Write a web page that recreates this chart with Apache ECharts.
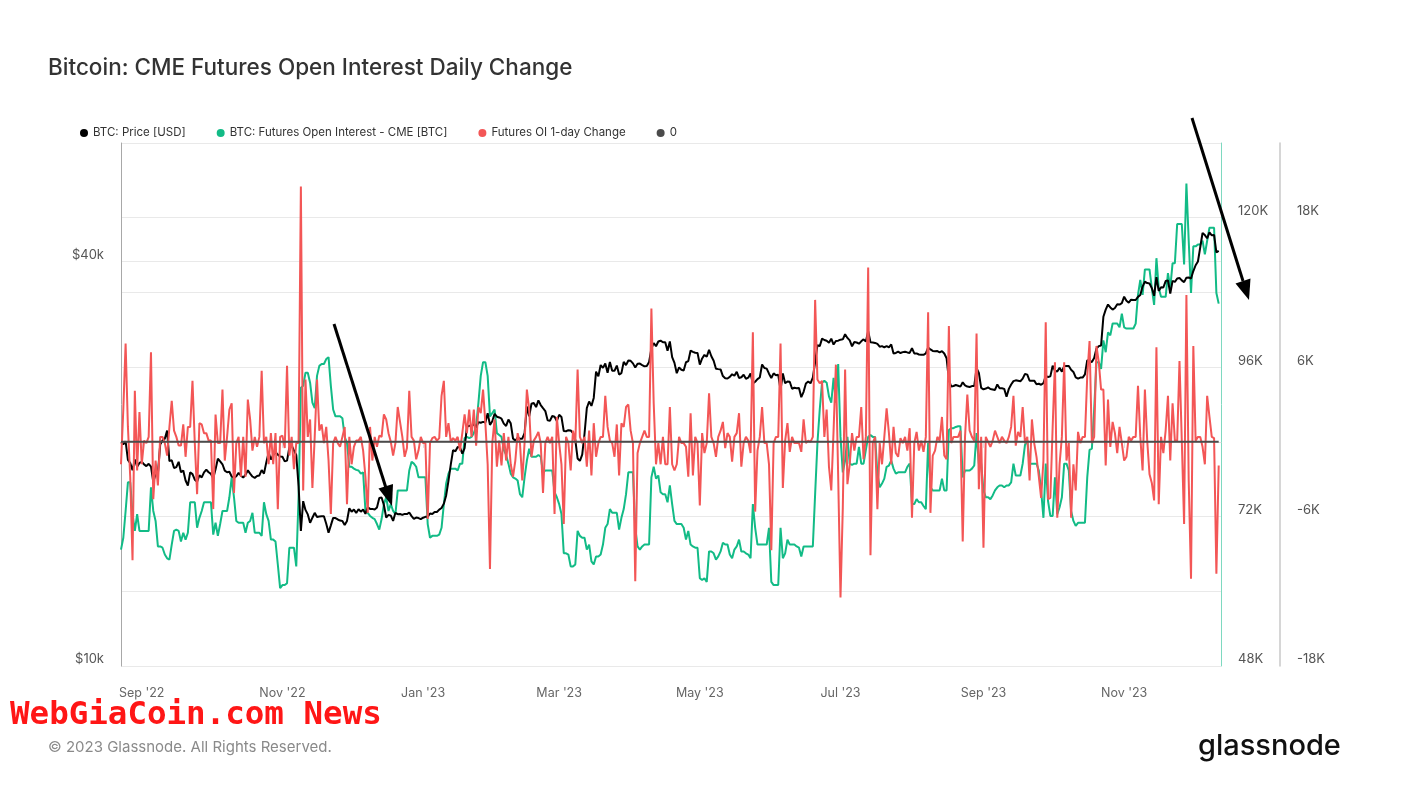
<!DOCTYPE html>
<html>
<head>
<meta charset="utf-8">
<script src="https://cdn.jsdelivr.net/npm/echarts@6/dist/echarts.min.js"></script>
<style>
html,body{margin:0;padding:0;background:#ffffff;}
#chart{width:1427px;height:796px;}
</style>
</head>
<body>
<div id="chart"></div>
<script>
// ---------------- DATA ----------------
const TITLE = 'Bitcoin: CME Futures Open Interest Daily Change';
const SERIES_NAMES = ['BTC: Price [USD]', 'BTC: Futures Open Interest - CME [BTC]', 'Futures OI 1-day Change', '0'];
const START_DATE = [2022, 7, 23];   // first daily point (year, monthIndex, day)
const X_END_DATE = [2023, 11, 13];  // right edge of the time axis
const X_TICK_DATES = [[2022,8,1],[2022,10,1],[2023,0,1],[2023,2,1],[2023,4,1],[2023,6,1],[2023,8,1],[2023,10,1]];
const MONTH_NAMES = ['Jan','Feb','Mar','Apr','May','Jun','Jul','Aug','Sep','Oct','Nov','Dec'];
const PRICE_LABEL_TICKS = ['$10k', '$40k'];
const PRICE_AXIS_RANGE = [10000, 60000];
const OI_AXIS = { min: 48, max: 132, interval: 12 };        // thousand BTC
const CHANGE_AXIS = { min: -18, max: 24, interval: 6 };     // thousand BTC

// BTC price, USD, daily from 2022-08-23 to 2023-12-12
const PRICE_USD = [
21530,21370,21580,20260,20040,19550,20290,19800,20050,
20130,19950,19830,19990,19800,18790,19290,19320,21360,21650,21780,22400,20170,20240,19700,19770,20130,19420,19540,18880,18550,19410,19300,18930,18800,19220,19080,19410,19590,19420,
19310,19040,19620,20340,20160,19960,19530,19420,19450,19140,19050,19160,19380,19190,19070,19260,19550,19330,19140,19050,19170,19210,19570,19330,20090,20770,20290,20600,20810,20630,20500,
20480,20160,20210,21150,21300,20920,20600,18540,15880,17590,17070,16810,16330,16620,16900,16660,16690,16700,16700,16280,15790,16190,16610,16600,16520,16460,16440,16210,16440,17170,
16970,17090,16890,17110,16970,17090,16840,17230,17130,17130,17090,17210,17780,17810,17360,16630,16780,16740,16440,16900,16820,16830,16780,16840,16830,16920,16710,16550,16630,16600,16540,
16620,16670,16680,16860,16830,16950,16950,17090,17180,17440,17940,18850,19930,20950,20870,21170,21160,20690,21090,22680,22780,22710,22930,22640,23060,23010,23080,23030,23770,22840,23130,
23730,23490,23430,23330,22940,22760,23260,22960,21800,21630,21860,21790,21790,22200,24330,23520,24560,24630,24280,24840,24450,24190,23950,23200,23160,23550,23490,23150,
23650,23470,22360,22350,22430,22410,22200,21700,20360,20190,20630,22160,24200,24750,24380,25050,27420,26970,28040,27770,28180,27310,28330,27490,27490,27990,27140,27270,28350,28030,28480,
28450,28200,27800,28170,28180,28040,27920,27950,28330,29650,30240,29900,30390,30480,30320,30320,29450,30400,28820,28250,27270,27820,27590,27520,28310,28420,29470,29340,29250,29230,
28090,28680,29030,28850,29530,28900,28450,27690,27650,27620,27000,26800,26780,26930,27170,27030,27400,26830,26890,27120,26750,26850,27230,26330,26480,26720,26870,28090,27750,27700,27220,
26820,27250,27070,27120,25760,27240,26350,26500,26480,25850,25940,25900,25920,25120,25580,26330,26510,26340,26850,28330,30030,29910,30700,30550,30470,30270,30690,30080,30450,30480,
30590,30620,31160,30770,30510,29900,30350,30290,30170,30410,30620,30390,31480,30320,30300,30250,30140,29860,29920,29800,29910,29800,30090,29180,29230,29350,29220,29310,29350,29280,29230,
29700,29180,29180,29070,29040,29040,29180,29770,29580,29430,29400,29410,29280,29410,29170,28700,26660,26050,26100,26190,26120,26040,26430,26160,26050,26010,26090,26100,27730,27300,25930,
25800,25870,25970,25830,25790,25750,26240,25900,25900,25840,25160,25840,26230,26540,26610,26570,26530,26760,27210,27130,26570,26580,26580,26250,26300,26210,26350,27030,26910,26970,
27980,27500,27430,27790,27410,27930,27960,27940,27590,27390,26870,26760,26860,26860,27160,28520,28410,28330,28720,29680,29920,29990,33090,33900,34500,34160,33910,34090,34540,34500,34670,
35440,34940,34730,35080,35050,35040,35420,35640,36690,37310,37130,37070,36500,35550,37880,36150,36600,36570,37390,37480,35810,37410,37290,37720,37790,37480,37250,37830,37860,37710,
38690,39470,39980,41980,44080,43770,43290,44170,43730,43790,41240,41450
];

// CME futures open interest, thousand BTC, same days
const OI_K = [
66.7,68.6,72.9,77.5,77.5,72.4,69.7,72.4,69.7,69.7,
69.7,69.7,69.7,76.7,72.9,71.3,67.2,67.2,67.0,65.9,
65.3,65.1,67.5,69.7,69.9,69.7,68.0,69.4,68.3,69.4,
74.3,74.3,74.3,70.2,71.8,72.9,74.3,74.3,74.3,74.3,
69.1,71.0,68.9,70.8,72.9,72.9,72.9,75.1,78.3,75.1,
71.3,71.0,71.0,71.0,69.4,71.0,71.3,72.6,69.4,69.4,
69.4,68.9,74.3,72.4,71.3,68.3,68.3,68.0,64.3,60.5,
61.0,61.0,61.3,67.0,67.0,67.0,64.0,75.1,92.7,93.0,
95.1,95.1,93.5,90.3,89.4,94.6,96.2,96.5,96.5,97.3,
97.6,93.0,89.2,88.1,88.1,88.1,87.8,84.8,83.8,80.0,
80.0,79.7,79.5,79.4,78.9,79.1,72.9,72.6,72.1,71.8,
71.6,70.8,69.9,71.6,74.0,75.1,72.9,74.0,72.9,72.4,
76.2,76.2,76.2,76.2,76.2,79.4,80.8,80.5,80.0,78.3,
78.3,78.3,78.3,70.8,68.6,68.9,68.9,68.9,69.1,70.2,
74.0,77.3,78.9,79.7,79.7,79.7,79.4,80.5,80.5,84.6,
84.8,84.6,84.8,85.4,86.5,90.3,94.6,96.8,96.8,94.6,
88.1,88.6,89.2,85.4,85.1,84.8,82.7,81.9,80.5,78.9,
78.3,78.1,77.8,75.6,75.1,78.3,81.0,82.9,81.6,81.6,
81.6,81.9,81.6,79.1,79.4,79.4,79.4,79.4,75.9,75.1,
74.0,72.4,66.1,66.1,65.9,64.0,64.0,64.3,69.7,68.9,
68.6,68.6,66.7,67.5,64.8,64.3,65.6,65.6,65.9,67.5,
70.2,70.8,73.2,72.6,72.6,72.6,69.9,71.8,73.2,75.6,
79.1,79.1,79.1,70.2,67.2,66.7,67.2,67.5,67.5,67.5,
78.3,80.0,78.1,78.6,75.9,75.6,75.6,74.3,77.0,74.0,
71.3,70.8,70.8,70.8,70.2,68.3,69.7,67.5,67.2,67.0,
67.0,62.1,61.8,62.1,61.5,66.4,66.4,66.1,65.1,65.6,
66.4,67.8,67.5,67.5,65.9,65.3,66.7,67.2,68.3,66.4,
66.4,66.1,65.9,65.3,74.0,70.2,67.5,67.5,67.5,67.5,
67.5,70.2,61.5,61.0,61.0,61.0,70.2,65.3,66.1,68.3,
67.5,67.5,67.5,67.2,67.0,65.6,67.2,67.2,67.2,67.2,
67.2,75.6,83.8,89.2,93.5,93.8,93.5,91.3,90.3,94.3,
90.3,96.5,84.8,79.1,81.0,84.8,80.5,80.3,80.5,80.5,
83.2,80.5,80.5,82.7,84.8,85.1,84.8,84.8,78.9,76.7,
77.3,78.1,80.0,80.2,81.0,79.7,78.9,79.1,79.1,79.1,
79.1,80.0,80.5,74.0,74.0,74.8,74.3,74.3,73.7,73.2,
83.8,76.7,76.2,76.2,76.2,76.2,78.1,76.2,76.2,85.9,
86.2,86.2,86.4,86.5,86.5,78.3,79.4,79.4,79.4,79.7,
80.2,85.4,80.5,80.5,76.2,75.1,75.1,74.8,75.4,76.2,
76.7,77.0,77.0,76.7,77.0,77.0,77.5,80.5,78.6,78.6,
78.6,80.5,83.5,84.3,80.5,80.5,80.5,80.5,79.4,76.2,
71.8,80.5,74.5,72.1,72.1,78.3,72.4,73.5,75.1,80.5,
80.5,79.4,72.9,71.3,70.5,71.0,71.0,71.0,71.0,78.3,
82.7,82.9,89.2,96.8,96.8,95.7,100.3,98.4,101.6,101.1,
103.0,103.0,103.0,102.4,104.6,102.4,102.2,102.2,102.2,102.2,
103.0,107.6,110.0,107.6,111.7,111.7,111.7,108.7,106.0,113.5,
108.7,107.3,107.3,107.3,111.1,108.7,112.7,112.7,119.0,119.0,
119.0,112.5,125.5,116.3,107.9,115.4,115.4,115.7,115.7,116.3,
114.1,116.3,118.4,118.4,118.4,107.9,106.2
];

// Futures OI 1-day change, thousand BTC, same days
const OI_CHANGE_K = [
-1.8,2.6,7.9,1.2,-2.8,-9.5,4.1,-2.3,2.4,-1.8,
0.1,-0.1,0.4,7.2,-4.6,-1.5,-3.5,0.4,0.4,-0.1,
-1.1,1.2,3.3,0.9,0.4,-0.3,-0.3,1.4,-1.2,1.2,
1.2,4.9,-0.1,-4.2,1.5,1.4,0.7,0.7,0.1,0.1,
-5.4,2.2,-0.1,-0.1,4.2,-1.5,0.4,2.6,3.1,-4.1,
-0.1,0.4,-2.8,0.4,-2.8,3.4,1.8,-0.7,0.4,-0.4,
0.4,5.7,-0.1,0.4,-1.8,0.7,-1.8,0.7,-5.4,0.4,
0.5,-0.5,6.1,-1.1,0.4,-2.2,-0.1,-0.1,20.5,-3.9,
5.0,0.4,1.8,-3.7,0.4,5.0,0.9,1.4,-0.1,1.2,
-1.5,-5.8,-0.1,0.4,-0.1,-0.4,0.4,1.2,-5.0,0.4,
-1.8,-0.4,0.1,0.1,0.4,-0.7,-2.8,-5.7,1.2,-1.5,
0.4,-0.4,0.5,0.4,2.2,1.8,0.7,0.0,-1.1,-0.1,
2.8,1.6,0.4,-1.2,-0.5,4.1,0.4,0.1,-1.4,-0.7,
0.4,-0.1,-0.1,-6.2,-0.1,0.3,0.4,0.1,0.3,3.7,
4.9,0.4,1.5,0.0,0.3,0.1,0.4,-0.7,0.7,2.2,
0.7,2.6,0.4,2.6,-0.3,2.8,2.3,4.2,1.5,-1.8,
-10.2,-0.1,1.8,-2.0,0.1,-1.9,0.7,-1.5,0.4,-1.8,
-2.8,-1.5,0.7,-0.1,-3.1,-0.1,4.2,2.6,-1.2,0.1,
0.4,0.8,-0.1,-4.1,-0.1,0.4,-0.1,0.4,-5.8,2.0,
-0.1,-1.8,-6.6,0.4,-0.1,-2.3,0.9,-0.1,5.8,0.4,
-0.1,0.4,-2.0,0.9,-2.7,1.5,-1.2,-0.1,0.4,0.4,
3.7,1.2,0.1,-0.1,-1.2,1.4,-2.7,1.5,1.2,2.8,
3.0,0.9,-0.1,-11.2,-0.9,-0.1,0.4,0.9,0.4,0.4,
10.7,3.1,-1.8,-0.1,-1.8,0.4,-1.8,-1.8,2.8,-1.8,
-2.3,-1.8,0.4,-0.1,-0.1,-0.4,-2.8,2.3,-2.7,0.4,
-0.1,-5.1,0.7,-0.9,-0.1,3.9,0.4,-0.1,-1.2,0.4,
0.9,1.6,-0.5,0.7,0.4,-1.6,0.4,0.7,2.3,-2.0,
-0.1,0.4,0.1,-0.9,8.8,-5.6,-0.7,0.4,2.8,-0.1,
-0.1,-1.8,-8.7,-0.1,0.4,0.4,7.9,-3.7,0.1,1.5,
-0.8,0.4,-0.1,-0.1,-0.1,-0.8,1.8,-0.1,0.1,0.0,
0.4,11.4,5.0,4.7,4.9,0.4,2.6,-2.0,-3.9,0.9,
6.2,-2.8,-12.5,-5.3,5.8,-3.4,-1.8,0.7,-0.7,0.4,
0.4,2.8,-1.4,0.4,14.0,-9.1,-0.1,0.4,-5.4,-0.1,
-1.8,0.4,2.7,0.7,-1.8,1.2,-0.9,-1.2,0.3,-0.1,
0.4,-0.7,1.1,-6.1,-0.1,0.8,-0.7,0.1,-0.8,0.4,
10.4,-5.7,-1.1,-0.7,0.4,0.1,2.0,-1.1,-1.4,9.3,
-0.1,0.4,0.4,0.4,0.9,-8.0,0.4,3.8,0.9,0.4,
0.1,8.7,-3.8,0.4,-8.5,0.4,0.0,-0.4,0.1,0.9,
0.4,-0.1,0.4,0.1,-0.1,0.4,1.2,3.7,-0.3,0.8,
0.4,2.8,-0.1,0.4,-3.1,1.8,-0.1,-1.2,-2.8,-4.5,
-1.5,9.6,-4.6,-4.5,1.2,6.4,-6.1,-1.8,0.4,6.4,
-1.5,-0.1,-6.1,-1.8,-3.9,0.8,-0.1,0.4,0.4,5.3,
8.1,-0.1,0.4,7.7,6.4,4.2,4.2,-1.9,3.4,-0.4,
1.6,0.7,-0.9,1.2,-0.1,-1.5,-1.2,0.4,0.1,0.4,
0.4,4.5,0.4,-2.3,4.2,0.1,-2.6,-3.3,-4.7,7.6,
-5.0,0.4,-0.9,0.9,3.7,-1.5,3.1,0.1,0.1,6.5,
0.1,-6.6,11.8,-3.1,-11.0,7.7,0.1,0.4,0.4,-0.4,
-1.8,3.7,2.0,0.4,0.3,-10.6,-1.9
];

// The "0" reference series (value at first and last day)
const ZERO_LINE = [0, 0];

// ---------------- BUILD ----------------
const DAY = 86400000;
const t0 = Date.UTC(START_DATE[0], START_DATE[1], START_DATE[2]);
const dates = PRICE_USD.map((_, i) => t0 + i * DAY);
const xMax = Date.UTC(X_END_DATE[0], X_END_DATE[1], X_END_DATE[2]);
const tickTimes = X_TICK_DATES.map(d => Date.UTC(d[0], d[1], d[2]));
const pair = arr => arr.map((v, i) => [dates[i], v]);
const zeroData = [[dates[0], ZERO_LINE[0]], [dates[dates.length - 1], ZERO_LINE[1]]];

const FONT = 'Inter, "Noto Sans", sans-serif';
const C_PRICE = '#000000';
const C_OI = '#12bb86';
const C_CHG = '#f35656';
const C_ZERO = '#4b4b4b';
const GRID_C = '#e9e9e9';

const logMin = Math.log10(PRICE_AXIS_RANGE[0]);
const logMax = Math.log10(PRICE_AXIS_RANGE[1]);
const LOG_STEP = 0.60206;

// y labels sit just above their grid line, as in the glassnode chart
const yLabel = (formatter) => ({ margin: 17, color: '#555555', fontSize: 13, fontFamily: FONT,
  verticalAlign: 'bottom', lineHeight: 13, formatter });

const chart = echarts.init(document.getElementById('chart'), null, { renderer: 'canvas' });
chart.setOption({
  backgroundColor: '#ffffff',
  animation: false,
  textStyle: { fontFamily: FONT },
  title: {
    text: TITLE, left: 48, top: 57, padding: 0,
    textStyle: { fontFamily: FONT, fontSize: 22.5, fontWeight: 500, color: '#333333' }
  },
  legend: {
    data: SERIES_NAMES, left: 75, top: 122, icon: 'circle',
    itemWidth: 8, itemHeight: 8, itemGap: 31,
    textStyle: { fontFamily: FONT, fontSize: 11.5, color: '#333333' }
  },
  grid: { left: 121, right: 206, top: 143, bottom: 130, containLabel: false },
  xAxis: {
    type: 'value', min: dates[0], max: xMax, scale: true,
    axisLine: { show: true, lineStyle: { color: '#dddddd', width: 1 } },
    axisTick: { show: true, customValues: tickTimes, length: 6, lineStyle: { color: '#dddddd' } },
    axisLabel: {
      customValues: tickTimes, margin: 21, color: '#666666', fontSize: 12.5, fontFamily: FONT,
      formatter: v => { const d = new Date(v); return MONTH_NAMES[d.getUTCMonth()] + " '" + String(d.getUTCFullYear()).slice(2); }
    },
    splitLine: { show: false }
  },
  yAxis: [
    { // 0: price (log)
      type: 'log', logBase: 10, min: PRICE_AXIS_RANGE[0], max: PRICE_AXIS_RANGE[1], position: 'left',
      axisLine: { show: true, lineStyle: { color: '#a8a8a8', width: 1 } },
      axisTick: { show: false }, axisLabel: { show: false }, splitLine: { show: false }
    },
    { // 1: open interest
      type: 'value', min: OI_AXIS.min, max: OI_AXIS.max, interval: OI_AXIS.interval, position: 'right', offset: 0,
      axisLine: { show: true, lineStyle: { color: '#7ed9c0', width: 1 } },
      axisTick: { show: false },
      axisLabel: yLabel(v => ((v - OI_AXIS.min) % (2 * OI_AXIS.interval) === 0) ? v + 'K' : ''),
      splitLine: { show: false }
    },
    { // 2: OI change
      type: 'value', min: CHANGE_AXIS.min, max: CHANGE_AXIS.max, interval: CHANGE_AXIS.interval, position: 'right', offset: 59,
      axisLine: { show: true, lineStyle: { color: '#c8c8c8', width: 1.5 } },
      axisTick: { show: false },
      axisLabel: yLabel(v => ((v - CHANGE_AXIS.min) % (2 * CHANGE_AXIS.interval) === 0) ? v + 'K' : ''),
      splitLine: { show: true, lineStyle: { color: GRID_C, width: 1 } }
    },
    { // 3: price labels (log10 of the price axis range)
      type: 'value', min: logMin, max: logMax, interval: LOG_STEP, position: 'left', offset: 0,
      axisLine: { show: false }, axisTick: { show: false },
      axisLabel: yLabel(v => {
          const idx = Math.round((v - logMin) / LOG_STEP);
          return (Math.abs(v - logMin - idx * LOG_STEP) < 0.001 && idx < PRICE_LABEL_TICKS.length) ? PRICE_LABEL_TICKS[idx] : '';
        }),
      splitLine: { show: true, lineStyle: { color: GRID_C, width: 1 } }
    }
  ],
  series: [
    { name: SERIES_NAMES[0], type: 'line', yAxisIndex: 0, data: pair(PRICE_USD), showSymbol: false, symbol: 'none',
      color: C_PRICE, lineStyle: { color: C_PRICE, width: 2 }, z: 3 },
    { name: SERIES_NAMES[1], type: 'line', yAxisIndex: 1, data: pair(OI_K), showSymbol: false, symbol: 'none',
      color: C_OI, lineStyle: { color: C_OI, width: 2 }, z: 2 },
    { name: SERIES_NAMES[2], type: 'line', yAxisIndex: 2, data: pair(OI_CHANGE_K), showSymbol: false, symbol: 'none',
      color: C_CHG, lineStyle: { color: C_CHG, width: 2 }, z: 4 },
    { name: SERIES_NAMES[3], type: 'line', yAxisIndex: 2, data: zeroData, showSymbol: false, symbol: 'none',
      color: C_ZERO, lineStyle: { color: C_ZERO, width: 2 }, z: 5 }
  ],
  graphic: [
    { type: 'text', x: 10, y: 716, z: 100,
      style: { text: 'WebGiaCoin.com News', font: 'bold 32.5px "DejaVu Sans Mono"', fill: '#ff1616', verticalAlign: 'middle' } },
    { type: 'text', x: 48, y: 747, z: 100,
      style: { text: '\u00a9 2023 Glassnode. All Rights Reserved.', font: '15px Inter', fill: '#8a8a8a', verticalAlign: 'middle' } },
    { type: 'text', x: 1198, y: 746, z: 100,
      style: { text: 'glassnode', font: '500 29px Inter', fill: '#111111', verticalAlign: 'middle' } },
    { type: 'line', z: 100, shape: { x1: 334, y1: 324, x2: 386, y2: 488 }, style: { stroke: '#000', lineWidth: 3 } },
    { type: 'polygon', z: 100, shape: { points: [[392, 506], [378.5, 488.5], [393, 484]] }, style: { fill: '#000' } },
    { type: 'line', z: 100, shape: { x1: 1192, y1: 118, x2: 1243, y2: 281 }, style: { stroke: '#000', lineWidth: 3 } },
    { type: 'polygon', z: 100, shape: { points: [[1249, 300], [1235.5, 283.5], [1250.5, 278.5]] }, style: { fill: '#000' } }
  ]
});
</script>
</body>
</html>
